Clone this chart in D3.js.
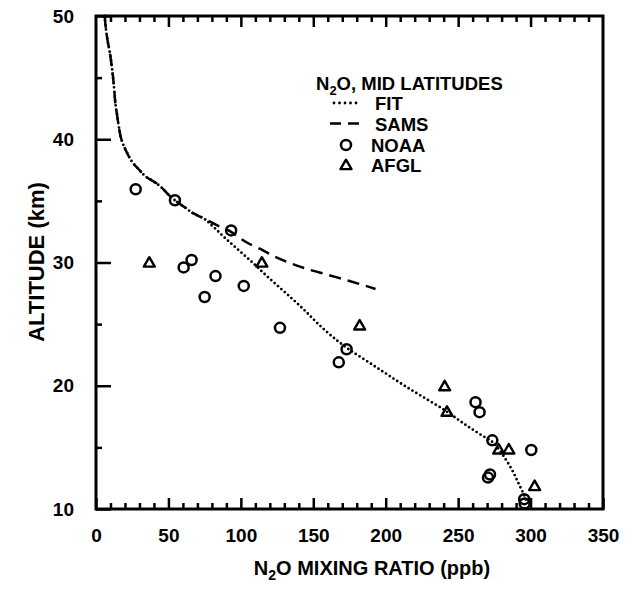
<!DOCTYPE html>
<meta charset="utf-8">
<html>
<body style="margin:0;background:#fff">
<script src="https://d3js.org/d3.v7.min.js"></script>
<script>
// N2O mixing ratio (ppb) vs altitude (km), mid latitudes
var fitAlt = [50, 49, 48, 47, 46, 45, 44, 43, 42, 41, 40, 39, 38, 37.5, 37, 36.4, 36, 35.5, 35, 34.5, 34, 33.6,
              33, 32, 31, 30, 29, 28, 27, 26, 25, 24, 23, 22, 21, 20, 19, 18, 17, 16, 15.5, 15, 14, 13, 12, 11, 10.5];
var fitN2O = [6, 6.8, 8, 9.6, 10.8, 11.8, 12.6, 13.3, 14.5, 15.8, 17.5, 21, 26, 30, 34, 42, 46, 50, 55, 61, 67, 74,
              80, 89, 98.5, 108, 117, 126.5, 136, 145, 153.5, 163, 174, 187, 200, 213, 227, 241, 253, 266, 273, 277, 283, 288, 292, 296, 297.5];

var samsAlt = [50, 49, 48, 47, 46, 45, 44, 43, 42, 41, 40, 39, 38, 37.5, 37, 36.4, 36, 35.5, 35, 34.5, 34, 33.6,
               33, 32.5, 32, 31.5, 31, 30.5, 30, 29.5, 29, 28.5, 28, 27.85];
var samsN2O = [6, 6.8, 8, 9.6, 10.8, 11.8, 12.6, 13.3, 14.5, 15.8, 17.5, 21, 26, 30, 34, 42, 46, 50, 55, 61, 67, 74,
               84, 93, 99, 106, 115, 123, 133, 145, 160, 175, 189, 193];

var noaaN2O = [27.4, 54.5, 93.3, 66, 60.5, 82.5, 75, 102, 127, 173, 167.6, 262, 264.8, 273.6, 300.5, 270.6, 272, 295.6, 295.9];
var noaaAlt = [35.94, 35.05, 32.6, 30.2, 29.6, 28.9, 27.2, 28.1, 24.7, 22.96, 21.9, 18.67, 17.86, 15.57, 14.79, 12.55, 12.8, 10.8, 10.45];

var afglN2O = [36.8, 114.5, 182, 240.7, 242.3, 278, 285, 302.8];
var afglAlt = [30, 30, 24.9, 19.97, 17.9, 14.84, 14.84, 11.87];

var xMajor = [0, 50, 100, 150, 200, 250, 300, 350];
var yMajor = [10, 20, 30, 40, 50];

var W = 635, H = 589;
var pL = 96, pR = 603, pT = 16, pB = 509;

var svg = d3.select("body").append("svg")
    .attr("width", W).attr("height", H)
    .style("font-family", "'Liberation Sans', Arial, sans-serif");

var x = d3.scaleLinear().domain([0, 350]).range([pL, pR]);
var y = d3.scaleLinear().domain([10, 50]).range([pB, pT]);

// minor ticks
var xMinor = d3.range(0, 351, 10).filter(function (d) { return d % 50 !== 0; });
var yMinor = [15, 25, 35, 45];

function styleAxis(g) {
  g.select(".domain").remove();
  g.selectAll(".tick line").attr("stroke", "#000").attr("stroke-width", 2.5);
}

svg.append("g").attr("transform", "translate(0," + pB + ")")
  .call(d3.axisBottom(x).tickValues(xMinor).tickSize(-6).tickFormat(""))
  .call(styleAxis);
svg.append("g").attr("transform", "translate(0," + pT + ")")
  .call(d3.axisTop(x).tickValues(xMinor).tickSize(-6).tickFormat(""))
  .call(styleAxis);
var xa = svg.append("g").attr("transform", "translate(0," + pB + ")")
  .call(d3.axisBottom(x).tickValues(xMajor).tickSize(-11).tickPadding(20))
  .call(styleAxis);
svg.append("g").attr("transform", "translate(0," + pT + ")")
  .call(d3.axisTop(x).tickValues(xMajor.slice(1, -1)).tickSize(-11).tickFormat(""))
  .call(styleAxis);
xa.selectAll("text").attr("font-size", 19).attr("font-weight", "bold").attr("fill", "#000")
  .attr("font-family", "'Liberation Sans', Arial, sans-serif");

svg.append("g").attr("transform", "translate(" + pL + ",0)")
  .call(d3.axisLeft(y).tickValues(yMinor).tickSize(-6).tickFormat(""))
  .call(styleAxis);
var ya = svg.append("g").attr("transform", "translate(" + pL + ",0)")
  .call(d3.axisLeft(y).tickValues(yMajor).tickSize(-15).tickPadding(22))
  .call(styleAxis);
ya.selectAll("text").attr("font-size", 19).attr("font-weight", "bold").attr("fill", "#000")
  .attr("font-family", "'Liberation Sans', Arial, sans-serif");

// frame
svg.append("rect")
  .attr("x", pL).attr("y", pT)
  .attr("width", pR - pL).attr("height", pB - pT)
  .attr("fill", "none").attr("stroke", "#000").attr("stroke-width", 3);

// curves
var fitData = fitAlt.map(function (a, i) { return [fitN2O[i], a]; });
var samsData = samsAlt.map(function (a, i) { return [samsN2O[i], a]; });
var line = d3.line().x(function (d) { return x(d[0]); }).y(function (d) { return y(d[1]); })
  .curve(d3.curveMonotoneY);

svg.append("path").datum(samsData).attr("d", line)
  .attr("fill", "none").attr("stroke", "#000").attr("stroke-width", 2.5)
  .attr("stroke-dasharray", "12,7");
svg.append("path").datum(fitData).attr("d", line)
  .attr("fill", "none").attr("stroke", "#000").attr("stroke-width", 2.8)
  .attr("stroke-linecap", "round").attr("stroke-dasharray", "0,4.5");

// NOAA circles
svg.selectAll("circle.noaa").data(noaaN2O).enter().append("circle")
  .attr("class", "noaa")
  .attr("cx", function (d) { return x(d); })
  .attr("cy", function (d, i) { return y(noaaAlt[i]); })
  .attr("r", 5).attr("fill", "none").attr("stroke", "#000").attr("stroke-width", 2.5);

// AFGL triangles
var tri = d3.symbol().type(d3.symbolTriangle).size(52);
svg.selectAll("path.afgl").data(afglN2O).enter().append("path")
  .attr("class", "afgl")
  .attr("d", tri)
  .attr("transform", function (d, i) { return "translate(" + x(d) + "," + (y(afglAlt[i]) + 1) + ")"; })
  .attr("fill", "none").attr("stroke", "#000").attr("stroke-width", 2.4)
  .attr("stroke-linejoin", "round");

// legend
var lg = svg.append("g").attr("font-size", 18.5).attr("font-weight", "bold");
var t = lg.append("text").attr("x", 316).attr("y", 90);
t.append("tspan").text("N");
t.append("tspan").attr("font-size", 13).attr("dy", 5).text("2");
t.append("tspan").attr("dy", -5).text("O,  MID  LATITUDES");

var rows = [
  {label: "FIT", y: 103},
  {label: "SAMS", y: 123.5},
  {label: "NOAA", y: 145},
  {label: "AFGL", y: 165}
];
lg.selectAll("text.lab").data(rows).enter().append("text")
  .attr("class", "lab")
  .attr("x", function (d, i) { return i < 2 ? 375 : 371; })
  .attr("y", function (d) { return d.y + 7; })
  .text(function (d) { return d.label; });

lg.append("line").attr("x1", 334).attr("x2", 357).attr("y1", 103).attr("y2", 103)
  .attr("stroke", "#000").attr("stroke-width", 2.8).attr("stroke-linecap", "round")
  .attr("stroke-dasharray", "0,5.5");
lg.append("line").attr("x1", 330).attr("x2", 359).attr("y1", 123.5).attr("y2", 123.5)
  .attr("stroke", "#000").attr("stroke-width", 2.5).attr("stroke-dasharray", "11,7");
lg.append("circle").attr("cx", 346).attr("cy", 145).attr("r", 5)
  .attr("fill", "none").attr("stroke", "#000").attr("stroke-width", 2.5);
lg.append("path").attr("d", tri).attr("transform", "translate(346,166)")
  .attr("fill", "none").attr("stroke", "#000").attr("stroke-width", 2.4)
  .attr("stroke-linejoin", "round");

// axis titles
var xt = svg.append("text").attr("x", 372).attr("y", 575)
  .attr("text-anchor", "middle").attr("font-size", 20).attr("font-weight", "bold");
xt.append("tspan").text("N");
xt.append("tspan").attr("font-size", 14).attr("dy", 5).text("2");
xt.append("tspan").attr("dy", -5).text("O MIXING RATIO (ppb)");

svg.append("text")
  .attr("transform", "translate(44,262) rotate(-90)")
  .attr("text-anchor", "middle").attr("font-size", 22).attr("font-weight", "bold")
  .text("ALTITUDE (km)");
</script>
</body>
</html>
